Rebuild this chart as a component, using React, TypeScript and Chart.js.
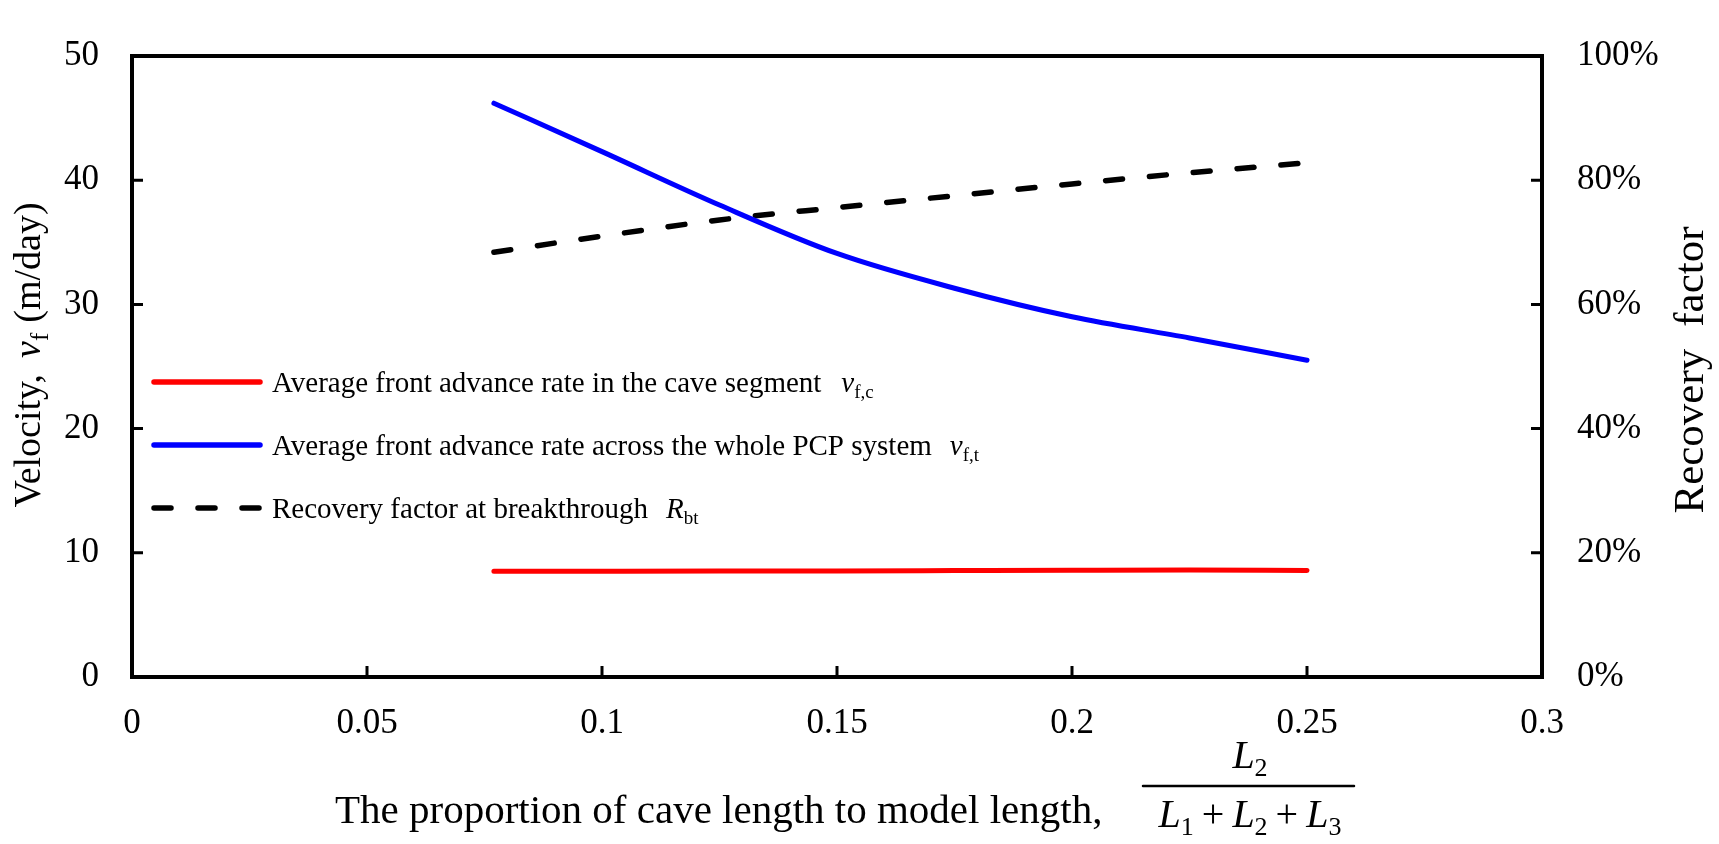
import { useEffect, useRef } from "react"
import { Chart, registerables } from "chart.js"

Chart.register(...registerables)

// proportion of cave length to model length
const ratios = [0.077, 0.1, 0.125, 0.15, 0.175, 0.2, 0.225, 0.25]
// average front advance rate in the cave segment (m/day)
const caveRate = [8.52, 8.52, 8.53, 8.54, 8.57, 8.6, 8.61, 8.58]
// average front advance rate across the whole PCP system (m/day)
const systemRate = [46.2, 42.3, 38.0, 34.1, 31.3, 29.0, 27.3, 25.5]
// recovery factor at breakthrough (fraction)
const recovery = [0.684, 0.71, 0.736, 0.756, 0.775, 0.794, 0.812, 0.828]

const xTicks = [0, 0.05, 0.1, 0.15, 0.2, 0.25, 0.3]
const yTicks = [0, 10, 20, 30, 40, 50]
const y1Ticks = [0, 0.2, 0.4, 0.6, 0.8, 1]

const FONT = '"Liberation Serif", "Times New Roman", serif'

type Seg = { t: string; it?: boolean; sub?: boolean; gap?: number }

function segFont(s: Seg, size: number) {
  return `${s.it ? "italic " : ""}${s.sub ? Math.round(size * 0.65) : size}px ${FONT}`
}

function richWidth(ctx: CanvasRenderingContext2D, segs: Seg[], size: number) {
  let w = 0
  for (const s of segs) {
    ctx.font = segFont(s, size)
    w += ctx.measureText(s.t).width + (s.gap || 0)
  }
  return w
}

function drawRich(ctx: CanvasRenderingContext2D, segs: Seg[], x: number, y: number, size: number, align: "left" | "center") {
  let cx = align === "center" ? x - richWidth(ctx, segs, size) / 2 : x
  ctx.textAlign = "left"
  ctx.textBaseline = "alphabetic"
  for (const s of segs) {
    ctx.font = segFont(s, size)
    ctx.fillText(s.t, cx, s.sub ? y + size * 0.2 : y)
    cx += ctx.measureText(s.t).width + (s.gap || 0)
  }
}

const legendItems: { color: string; dash: number[]; segs: Seg[] }[] = [
  { color: "#ff0000", dash: [], segs: [{ t: "Average front advance rate in the cave segment", gap: 20 }, { t: "v", it: true }, { t: "f,c", sub: true }] },
  { color: "#0000ff", dash: [], segs: [{ t: "Average front advance rate across the whole PCP system", gap: 18 }, { t: "v", it: true }, { t: "f,t", sub: true }] },
  { color: "#000000", dash: [17, 27], segs: [{ t: "Recovery factor at breakthrough", gap: 18 }, { t: "R", it: true }, { t: "bt", sub: true }] },
]

const decorations = {
  id: "decorations",
  afterDraw(chart: Chart) {
    const ctx = chart.ctx
    const { left, right, top, bottom } = chart.chartArea
    const x = chart.scales.x
    const y = chart.scales.y
    const y1 = chart.scales.y1
    ctx.save()
    ctx.strokeStyle = "#000"
    ctx.fillStyle = "#000"

    // frame
    ctx.lineWidth = 4
    ctx.setLineDash([])
    ctx.strokeRect(left, top, right - left, bottom - top)

    // inward tick marks
    ctx.lineWidth = 3
    ctx.beginPath()
    for (const v of xTicks.slice(1, -1)) {
      const px = x.getPixelForValue(v)
      ctx.moveTo(px, bottom)
      ctx.lineTo(px, bottom - 11)
    }
    for (const v of yTicks.slice(1, -1)) {
      const py = y.getPixelForValue(v)
      ctx.moveTo(left, py)
      ctx.lineTo(left + 11, py)
    }
    for (const v of y1Ticks.slice(1, -1)) {
      const py = y1.getPixelForValue(v)
      ctx.moveTo(right, py)
      ctx.lineTo(right - 11, py)
    }
    ctx.stroke()

    // legend
    legendItems.forEach((item, i) => {
      const ly = 382 + i * 63
      ctx.beginPath()
      ctx.strokeStyle = item.color
      ctx.lineWidth = 5.5
      ctx.lineCap = "round"
      ctx.setLineDash(item.dash)
      ctx.moveTo(154, ly)
      ctx.lineTo(260, ly)
      ctx.stroke()
      ctx.setLineDash([])
      ctx.fillStyle = "#000"
      drawRich(ctx, item.segs, 272, ly + 10, 29, "left")
    })

    // left axis title
    ctx.save()
    ctx.translate(40, 355)
    ctx.rotate(-Math.PI / 2)
    drawRich(ctx, [{ t: "Velocity,", gap: 16 }, { t: "v", it: true }, { t: "f", sub: true, gap: 10 }, { t: "(m/day)" }], 0, 0, 38, "center")
    ctx.restore()

    // right axis title
    ctx.save()
    ctx.translate(1703, 370)
    ctx.rotate(-Math.PI / 2)
    drawRich(ctx, [{ t: "Recovery", gap: 22 }, { t: "factor" }], 0, 0, 43, "center")
    ctx.restore()

    // x axis title with fraction
    drawRich(ctx, [{ t: "The proportion of cave length to model length," }], 335, 823, 41, "left")
    const fx = 1250
    drawRich(ctx, [{ t: "L", it: true }, { t: "2", sub: true }], fx, 768, 40, "center")
    ctx.lineWidth = 2.5
    ctx.beginPath()
    ctx.moveTo(1143, 786)
    ctx.lineTo(1354, 786)
    ctx.stroke()
    drawRich(
      ctx,
      [
        { t: "L", it: true },
        { t: "1", sub: true, gap: 8 },
        { t: "+", gap: 8 },
        { t: "L", it: true },
        { t: "2", sub: true, gap: 8 },
        { t: "+", gap: 8 },
        { t: "L", it: true },
        { t: "3", sub: true },
      ],
      fx,
      827,
      40,
      "center"
    )
    ctx.restore()
  },
}

export default function App() {
  const chartRef = useRef<HTMLCanvasElement>(null)
  const chartInstance = useRef<Chart | null>(null)

  useEffect(() => {
    if (!chartRef.current) return
    if (chartInstance.current) chartInstance.current.destroy()
    const ctx = chartRef.current.getContext("2d")
    if (!ctx) return

    const tickFont = { family: FONT, size: 35 }

    chartInstance.current = new Chart(ctx, {
      type: "line",
      data: {
        datasets: [
          {
            label: "Average front advance rate in the cave segment",
            data: ratios.map((r, i) => ({ x: r, y: caveRate[i] })),
            borderColor: "#ff0000",
            borderWidth: 5,
            borderCapStyle: "round",
            pointRadius: 0,
            cubicInterpolationMode: "monotone",
            yAxisID: "y",
          },
          {
            label: "Average front advance rate across the whole PCP system",
            data: ratios.map((r, i) => ({ x: r, y: systemRate[i] })),
            borderColor: "#0000ff",
            borderWidth: 5,
            borderCapStyle: "round",
            pointRadius: 0,
            cubicInterpolationMode: "monotone",
            yAxisID: "y",
          },
          {
            label: "Recovery factor at breakthrough",
            data: ratios.map((r, i) => ({ x: r, y: recovery[i] })),
            borderColor: "#000000",
            borderWidth: 5.5,
            borderDash: [17, 27],
            borderCapStyle: "round",
            pointRadius: 0,
            cubicInterpolationMode: "monotone",
            yAxisID: "y1",
          },
        ],
      },
      options: {
        animation: false,
        responsive: true,
        maintainAspectRatio: false,
        layout: { padding: { top: 33, left: 0, right: 0, bottom: 0 } },
        plugins: {
          legend: { display: false },
          tooltip: { enabled: false },
        },
        scales: {
          x: {
            type: "linear",
            min: 0,
            max: 0.3,
            afterBuildTicks: (s) => {
              s.ticks = xTicks.map((v) => ({ value: v }))
            },
            afterFit: (s) => {
              s.height = 167
            },
            grid: { display: false, drawTicks: false },
            border: { display: false },
            ticks: {
              color: "#000",
              font: tickFont,
              padding: 26,
              maxRotation: 0,
              callback: (v) => String(Number(Number(v).toFixed(2))),
            },
          },
          y: {
            position: "left",
            min: 0,
            max: 50,
            afterBuildTicks: (s) => {
              s.ticks = yTicks.map((v) => ({ value: v }))
            },
            afterFit: (s) => {
              s.width = 132
            },
            grid: { display: false, drawTicks: false },
            border: { display: false },
            ticks: { color: "#000", font: tickFont, padding: 33 },
          },
          y1: {
            position: "right",
            min: 0,
            max: 1,
            afterBuildTicks: (s) => {
              s.ticks = y1Ticks.map((v) => ({ value: v }))
            },
            afterFit: (s) => {
              s.width = 177
            },
            grid: { display: false, drawTicks: false },
            border: { display: false },
            ticks: {
              color: "#000",
              font: tickFont,
              padding: 35,
              callback: (v) => `${Math.round(Number(v) * 100)}%`,
            },
          },
        },
      },
      plugins: [decorations],
    })

    return () => {
      if (chartInstance.current) {
        chartInstance.current.destroy()
        chartInstance.current = null
      }
    }
  }, [])

  return (
    <div style={{ position: "fixed", left: 0, top: 0, width: 1719, height: 844, background: "#fff" }}>
      <canvas ref={chartRef} />
    </div>
  )
}
